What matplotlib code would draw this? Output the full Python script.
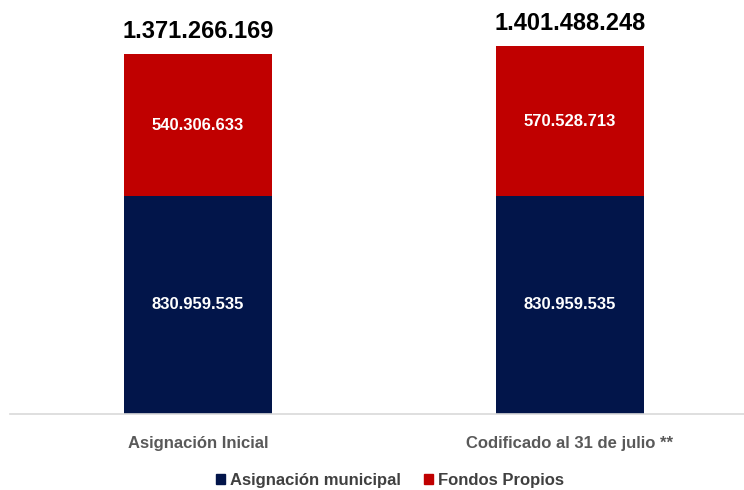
import matplotlib
matplotlib.use('Agg')
import matplotlib.pyplot as plt
from matplotlib.patches import Patch

plt.rcParams['font.family'] = ['Liberation Sans Narrow', 'Liberation Sans', 'DejaVu Sans']

categories = ['Asignación Inicial', 'Codificado al 31 de julio **']
asignacion_municipal = [830959535, 830959535]
fondos_propios = [540306633, 570528713]
totales = [1371266169, 1401488248]
series_names = ['Asignación municipal', 'Fondos Propios']

navy = '#02154A'
red = '#C00000'


def fmt(v):
    return f'{v:,}'.replace(',', '.')


fig = plt.figure(figsize=(7.44, 4.90), dpi=100)
ax = fig.add_axes([10 / 744, 76 / 490, 734 / 744, 414 / 490])

x = list(range(len(categories)))
width = 0.398
ax.bar(x, asignacion_municipal, width, color=navy, label=series_names[0])
ax.bar(x, fondos_propios, width, bottom=asignacion_municipal, color=red, label=series_names[1])

for i in x:
    ax.text(i, asignacion_municipal[i] / 2, fmt(asignacion_municipal[i]),
            ha='center', va='center', color='white', fontsize=12, fontweight='bold')
    ax.text(i, asignacion_municipal[i] + fondos_propios[i] / 2, fmt(fondos_propios[i]),
            ha='center', va='center', color='white', fontsize=12, fontweight='bold')
    ax.annotate(fmt(totales[i]), (i, totales[i]), xytext=(0, 8), textcoords='offset points',
                ha='center', va='bottom', color='black', fontsize=17, fontweight='bold')

ax.set_xlim(-0.505, 1.468)
ax.set_ylim(0, 1578e6)
ax.set_xticks(x)
ax.set_xticklabels(categories, fontsize=12, fontweight='bold', color='#595959')
ax.tick_params(axis='x', length=0, pad=16)
ax.set_yticks([])
for s in ['top', 'right', 'left']:
    ax.spines[s].set_visible(False)
ax.spines['bottom'].set_color('#D9D9D9')
ax.spines['bottom'].set_linewidth(1.2)

handles = [Patch(color=navy, label=series_names[0]), Patch(color=red, label=series_names[1])]
leg = fig.legend(handles=handles, loc='center', bbox_to_anchor=(390 / 744, 10 / 490), ncol=2,
                 frameon=False, handlelength=0.55, handleheight=0.55, handletextpad=0.3,
                 columnspacing=1.4, prop={'size': 12, 'weight': 'bold'})
for t in leg.get_texts():
    t.set_color('#404040')

fig.savefig('out.png', dpi=100)
